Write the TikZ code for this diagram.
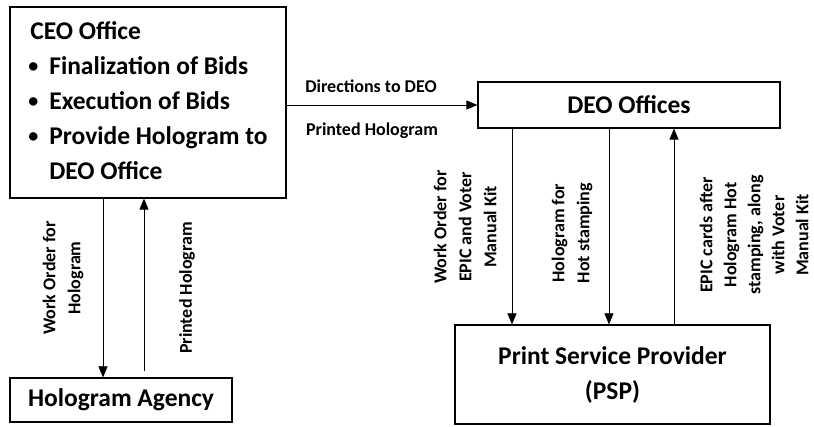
\documentclass[tikz,border=0pt]{standalone}
\usepackage{fontspec}
\setmainfont{Carlito}
\usetikzlibrary{arrows.meta}
\newcommand{\blt}{\raisebox{1.5pt}{\fontsize{20}{35}\selectfont\textbullet}}
\begin{document}
\begin{tikzpicture}[x=1pt,y=-1pt,
  box/.style={draw, line width=1.2pt, inner sep=0pt},
  arr/.style={-{Triangle[length=11pt,width=9pt]}, line width=0.7pt},
  lab/.style={font=\fontsize{18}{25}\selectfont\bfseries, align=center, inner sep=0pt},
  big/.style={font=\fontsize{25.5}{35}\selectfont\bfseries}]
\useasboundingbox (0,0) rectangle (814,427);
\node[box, big, minimum width=276pt, minimum height=191pt] (ceo) at (148,102.5)
 {\begin{tabular}{@{}l@{\hspace{11pt}}l@{}}\multicolumn{2}{@{}l@{}}{\hspace{2pt}CEO Office}\\
  \blt & Finalization of Bids\\
  \blt & Execution of Bids\\
  \blt & Provide Hologram to\\
   & DEO Office\end{tabular}};
\node[box, big, minimum width=302pt, minimum height=46pt] (deo) at (629,105) {DEO Offices};
\node[box, big, minimum width=222pt, minimum height=44pt] (ha) at (121,400) {Hologram Agency};
\node[box, big, minimum width=315pt, minimum height=99pt, align=center] (psp) at (612.5,374.5) {Print Service Provider\\(PSP)};
% CEO -> DEO
\draw[arr] (ceo.east |- deo.west) -- (deo.west);
\node[lab] (l1) at (371,86) {Directions to DEO};
\node[lab] (l2) at (372,131) {Printed Hologram};
% CEO <-> Hologram agency
\draw[arr] ([xshift=-45pt]ceo.south) -- ([xshift=-45pt]ceo.south |- ha.north);
\draw[arr, shorten <=6pt] ([xshift=-4pt]ceo.south |- ha.north) -- ([xshift=-4pt]ceo.south);
\node[lab, rotate=90] (l3) at (63,278) {Work Order for\\Hologram};
\node[lab, rotate=90] (l4) at (187,288) {Printed Hologram};
% DEO <-> PSP
\draw[arr] ([xshift=-100.5pt]psp.north |- deo.south) -- ([xshift=-100.5pt]psp.north);
\draw[arr] ([xshift=-3.5pt]psp.north |- deo.south) -- ([xshift=-3.5pt]psp.north);
\draw[arr] ([xshift=61.5pt]psp.north) -- ([xshift=61.5pt]psp.north |- deo.south);
\node[lab, rotate=90] (l5) at (465,227) {Work Order for\\EPIC and Voter\\Manual Kit};
\node[lab, rotate=90] (l6) at (572,233) {Hologram for\\Hot stamping};
\node[lab, rotate=90, font=\fontsize{18}{24}\selectfont\bfseries] (l7) at (754,235) {EPIC cards after\\Hologram Hot\\stamping, along\\with Voter\\Manual Kit};
\end{tikzpicture}
\end{document}
